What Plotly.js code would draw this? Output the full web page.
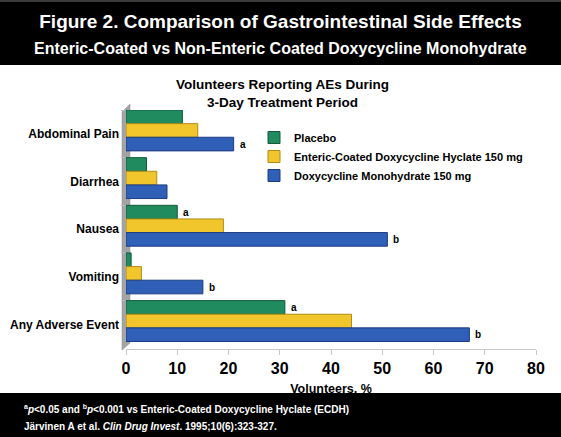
<!DOCTYPE html>
<html>
<head>
<meta charset="utf-8">
<script src="https://cdn.plot.ly/plotly-3.0.1.min.js"></script>
<style>
  html, body { margin: 0; padding: 0; background: #ffffff; }
  #chart { width: 561px; height: 437px; }
</style>
</head>
<body>
<div id="chart"></div>
<script>
// ---- data ----
const categories = ['Abdominal Pain', 'Diarrhea', 'Nausea', 'Vomiting', 'Any Adverse Event'];
const seriesNames = ['Placebo', 'Enteric-Coated Doxycycline Hyclate 150 mg', 'Doxycycline Monohydrate 150 mg'];
const placebo = [11, 4, 10, 1, 31];
const ecdh    = [14, 6, 19, 3, 44];
const dm      = [21, 8, 51, 15, 67];
const placeboSig = ['', '', 'a', '', 'a'];
const ecdhSig    = ['', '', '', '', ''];
const dmSig      = ['a', '', 'b', 'b', 'b'];
const xTickVals = [0, 10, 20, 30, 40, 50, 60, 70, 80];

const mainTitle = 'Figure 2. Comparison of Gastrointestinal Side Effects';
const subTitle = 'Enteric-Coated vs Non-Enteric Coated Doxycycline Monohydrate';
const chartTitle = 'Volunteers Reporting AEs During<br>3-Day Treatment Period';
const xTitle = 'Volunteers, %';
const footnote1 = '<sup>a</sup><i>p</i>&lt;0.05 and <sup>b</sup><i>p</i>&lt;0.001 vs Enteric-Coated Doxycycline Hyclate (ECDH)';
const footnote2 = 'Järvinen A et al. <i>Clin Drug Invest</i>. 1995;10(6):323-327.';

// ---- styling ----
const FONT = 'Liberation Sans, Arial, sans-serif';
const fills = ['#1f8b5e', '#f1c62c', '#2f5fb6'];
const edges = ['#135a3c', '#b08c17', '#1c3c82'];
const barWidth = 0.286;
const offsets = [-0.5, -0.214, 0.072];

const values = [placebo, ecdh, dm];
const sigs = [placeboSig, ecdhSig, dmSig];

const traces = values.map((vals, i) => ({
  type: 'bar',
  orientation: 'h',
  name: seriesNames[i],
  x: vals,
  y: categories,
  width: barWidth,
  offset: offsets[i],
  marker: { color: fills[i], line: { color: edges[i], width: 1 } },
  hoverinfo: 'x+name'
}));

// plot geometry (px)
const L = 126, R = 25, T = 110, B = 88, W = 561, H = 437;
const plotH = H - T - B, plotW = W - L - R;
const py = p => (H - B - p) / plotH;   // pixel row -> paper y
const px = p => (p - L) / plotW;       // pixel col -> paper x

const annotations = [];
sigs.forEach((arr, i) => {
  const centerShift = -(offsets[i] + barWidth / 2) * (plotH / categories.length);
  arr.forEach((s, j) => {
    if (!s) return;
    annotations.push({
      x: values[i][j], y: categories[j], xref: 'x', yref: 'y',
      text: s, showarrow: false, xanchor: 'left', yanchor: 'middle',
      xshift: 4, yshift: centerShift,
      font: { family: FONT, size: 10, color: '#000', weight: 'bold' }
    });
  });
});

annotations.push(
  { text: subTitle, xref: 'paper', yref: 'paper', x: px(280.5), y: py(48),
    xanchor: 'center', yanchor: 'middle', showarrow: false,
    font: { family: FONT, size: 16, color: '#ffffff', weight: 'bold' } },
  { text: chartTitle, xref: 'paper', yref: 'paper', x: px(282), y: py(93.5),
    xanchor: 'center', yanchor: 'middle', showarrow: false,
    font: { family: FONT, size: 13.5, color: '#000', weight: 'bold' } },
  { text: footnote1, xref: 'paper', yref: 'paper', x: px(22), y: py(409),
    xanchor: 'left', yanchor: 'middle', showarrow: false, align: 'left',
    font: { family: FONT, size: 10, color: '#ffffff', weight: 'bold' } },
  { text: footnote2, xref: 'paper', yref: 'paper', x: px(22), y: py(426),
    xanchor: 'left', yanchor: 'middle', showarrow: false, align: 'left',
    font: { family: FONT, size: 10, color: '#ffffff', weight: 'bold' } }
);

const wallPath = 'M' + px(122) + ',' + py(350) +
                 ' L' + px(122) + ',' + py(112) +
                 ' L' + px(130) + ',' + py(104) +
                 ' L' + px(130) + ',' + py(343) + ' Z';

const shapes = [
  // top black band
  { type: 'rect', xref: 'paper', yref: 'paper', x0: px(-5), x1: px(W + 5), y0: py(65), y1: py(-5),
    fillcolor: '#000000', line: { width: 0 }, layer: 'below' },
  { type: 'rect', xref: 'paper', yref: 'paper', x0: px(-5), x1: px(W + 5), y0: py(2), y1: py(-5),
    fillcolor: '#3a3a3a', line: { width: 0 }, layer: 'below' },
  // bottom black band
  { type: 'rect', xref: 'paper', yref: 'paper', x0: px(-5), x1: px(W + 5), y0: py(H + 5), y1: py(393),
    fillcolor: '#000000', line: { width: 0 }, layer: 'below' },
  // 3-D side wall
  { type: 'path', xref: 'paper', yref: 'paper', path: wallPath,
    fillcolor: '#a4a4a4', line: { color: '#8c8c8c', width: 0.5 }, layer: 'below' }
];

const layout = {
  width: W, height: H,
  margin: { l: L, r: R, t: T, b: B, pad: 0 },
  paper_bgcolor: '#ffffff', plot_bgcolor: 'rgba(0,0,0,0)',
  font: { family: FONT, color: '#000' },
  title: { text: mainTitle, x: 0.5, xref: 'container', xanchor: 'center',
           y: 1 - 21 / H, yref: 'container', yanchor: 'middle',
           font: { family: FONT, size: 19, color: '#ffffff', weight: 'bold' } },
  barmode: 'overlay',
  showlegend: true,
  legend: { x: px(254), y: py(123), xanchor: 'left', yanchor: 'top', traceorder: 'normal',
            bgcolor: 'rgba(0,0,0,0)', font: { family: FONT, size: 11, color: '#000', weight: 'bold' },
            tracegroupgap: 0 },
  xaxis: {
    range: [0, 80], tickvals: xTickVals, ticktext: xTickVals.map(String),
    showgrid: false, zeroline: false, showline: true, linecolor: '#c8c8c8', linewidth: 1,
    ticks: 'outside', ticklen: 5, tickcolor: '#c8c8c8',
    tickfont: { family: FONT, size: 16, color: '#000', weight: 'bold' },
    title: { text: xTitle, standoff: 8, font: { family: FONT, size: 12.5, color: '#000', weight: 'bold' } },
    fixedrange: true
  },
  yaxis: {
    type: 'category', categoryorder: 'array', categoryarray: categories,
    autorange: 'reversed', showgrid: false, zeroline: false, showline: false,
    ticks: 'outside', tickson: 'boundaries', ticklen: 4, tickcolor: '#bbbbbb',
    ticklabelstandoff: 6,
    tickfont: { family: FONT, size: 12, color: '#000', weight: 'bold' },
    fixedrange: true
  },
  annotations: annotations,
  shapes: shapes
};

Plotly.newPlot('chart', traces, layout, { displayModeBar: false, staticPlot: true });
</script>
</body>
</html>
